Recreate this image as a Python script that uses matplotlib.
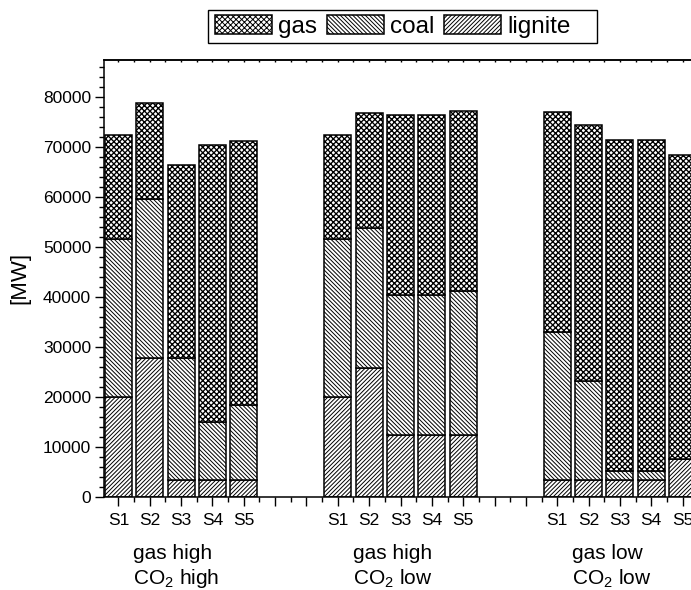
import matplotlib
matplotlib.use("Agg")
import matplotlib.pyplot as plt
import numpy as np
from matplotlib.ticker import MultipleLocator
from matplotlib.patches import Rectangle

plt.rcParams['font.family'] = ['Liberation Sans', 'DejaVu Sans']
plt.rcParams['hatch.linewidth'] = 0.7

scenarios = ["S1", "S2", "S3", "S4", "S5"]
group_line1 = ["gas high", "gas high", "gas low"]
group_line2 = ["high", "low", "low"]

# values per group (S1..S5), MW
lignite = [
    [20100, 27900, 3400, 3400, 3400],
    [20100, 25800, 12500, 12500, 12500],
    [3400, 3400, 3400, 3400, 7550],
]
coal_top = [
    [51700, 59600, 27900, 15000, 18500],
    [51700, 53800, 40400, 40400, 41300],
    [33100, 23200, 5150, 5150, 7550],
]
total = [
    [72500, 78800, 66400, 70500, 71200],
    [72500, 76900, 76450, 76450, 77300],
    [77100, 74450, 71500, 71500, 68500],
]

group_start = [1, 8, 15]

fig = plt.figure(figsize=(6.91, 5.90), dpi=100)
ax = fig.add_axes([104.3/691, 93/590, 592.4/691, (497-59.7)/590])

width = 0.86
ekw = dict(edgecolor='black', linewidth=1.1, facecolor='white')
for g in range(3):
    x = np.arange(5) + group_start[g]
    lig = np.array(lignite[g])
    coal = np.array(coal_top[g]) - lig
    gas = np.array(total[g]) - np.array(coal_top[g])
    ax.bar(x, lig, width, hatch='////////', label='lignite' if g == 0 else None, **ekw)
    ax.bar(x, coal, width, bottom=lig, hatch='\\\\\\\\\\\\\\\\', label='coal' if g == 0 else None, **ekw)
    bars = ax.bar(x, gas, width, bottom=lig + coal, hatch='xxxxxx', label='gas' if g == 0 else None, **ekw)
    for b in bars:
        try:
            b.set_hatch_linewidth(0.95)
        except AttributeError:
            pass

ax.set_xlim(0.55, 19.45)
ax.set_ylim(0, 87500)

ax.spines['right'].set_visible(False)
for s in ['left', 'bottom', 'top']:
    ax.spines[s].set_linewidth(1.1)

ax.yaxis.set_major_locator(MultipleLocator(10000))
ax.yaxis.set_minor_locator(MultipleLocator(2000))
ax.xaxis.set_major_locator(MultipleLocator(1))
ax.xaxis.set_minor_locator(MultipleLocator(0.5))

positions = []
for g in range(3):
    for i in range(5):
        positions.append(group_start[g] + i)

def xfmt(v, pos):
    iv = int(round(v))
    if abs(v - iv) < 1e-6 and iv in positions:
        return scenarios[positions.index(iv) % 5]
    return ""
ax.xaxis.set_major_formatter(plt.FuncFormatter(xfmt))

ax.tick_params(axis='both', which='major', direction='out', length=6.5, width=1.0, labelsize=12.5)
ax.tick_params(axis='both', which='minor', direction='out', length=3.5, width=1.0)
ax.tick_params(axis='x', which='major', pad=5)
ax.tick_params(axis='y', which='major', pad=3)

# tiny inner ticks on top spine
sec = ax.secondary_xaxis('top')
sec.xaxis.set_major_locator(MultipleLocator(0.5))
sec.tick_params(axis='x', which='both', direction='in', length=1.5, width=1.0, labeltop=False)
sec.spines['top'].set_linewidth(1.1)

ax.set_ylabel('[MW]', fontsize=16, labelpad=9)

for g in range(3):
    xg = group_start[g] + 0.47
    ax.text(xg, -0.13, group_line1[g], transform=ax.get_xaxis_transform(),
            ha='left', va='center', fontsize=15)
    ax.text(xg, -0.187, "CO$_{\\mathregular{2}}$ " + group_line2[g], transform=ax.get_xaxis_transform(),
            ha='left', va='center', fontsize=15)

h, l = ax.get_legend_handles_labels()
order = [2, 1, 0]
fs = 17.5
fs_px = fs * 100 / 72
leg = fig.legend([h[i] for i in order], [l[i] for i in order], loc='center left',
                 bbox_to_anchor=(208/691, 1 - 26.5/590), ncol=3, fontsize=fs,
                 frameon=False, handlelength=57/fs_px,
                 handleheight=0.85, columnspacing=10/fs_px, handletextpad=6/fs_px,
                 borderpad=7/fs_px, borderaxespad=0)
fig.patches.append(Rectangle((208/691, 1 - 43/590), 389/691, 33/590, transform=fig.transFigure,
                             fill=False, edgecolor='black', linewidth=1.0))

fig.savefig('out.png', dpi=100)
